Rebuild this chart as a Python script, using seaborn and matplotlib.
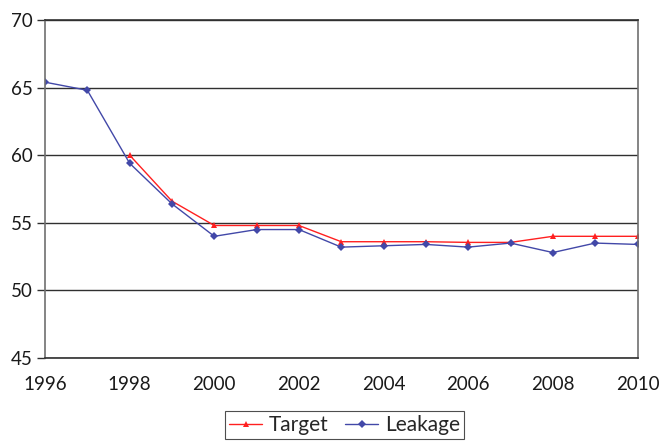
import matplotlib
matplotlib.use("Agg")
import matplotlib.pyplot as plt
import seaborn as sns
import pandas as pd

years = list(range(1996, 2011))
target_years = list(range(1998, 2011))
target = [60.0, 56.6, 54.8, 54.8, 54.8, 53.6, 53.6, 53.6, 53.55, 53.55, 54.0, 54.0, 54.0]
leakage = [65.4, 64.8, 59.4, 56.4, 54.0, 54.5, 54.5, 53.2, 53.3, 53.4, 53.2, 53.5, 52.8, 53.5, 53.4]
y_ticks = [45, 50, 55, 60, 65, 70]
x_ticks = list(range(1996, 2011, 2))

df = pd.concat([
    pd.DataFrame({"year": target_years, "value": target, "series": "Target"}),
    pd.DataFrame({"year": years, "value": leakage, "series": "Leakage"}),
], ignore_index=True)

sns.set_theme(style="white")
plt.rcParams["font.family"] = ["Lato", "DejaVu Sans"]

fig = plt.figure(figsize=(6.7, 4.44), dpi=100)
ax = fig.add_axes([0.0672, 0.1937, 0.8843, 0.7613])

sns.lineplot(
    data=df, x="year", y="value", hue="series", style="series",
    palette={"Target": "#FF2020", "Leakage": "#4248A8"},
    markers={"Target": "^", "Leakage": "D"}, dashes=False,
    markersize=4, linewidth=1.0, markeredgewidth=0, ax=ax,
)

ax.set_xlim(1996, 2010)
ax.set_ylim(45, 70)
ax.set_xticks(x_ticks)
ax.set_yticks(y_ticks)
ax.set_xlabel("")
ax.set_ylabel("")
ax.grid(axis="y", color="#303030", linewidth=1.0)
ax.set_axisbelow(True)
for side in ["left", "right", "top", "bottom"]:
    ax.spines[side].set_visible(True)
    ax.spines[side].set_color("#707070")
    ax.spines[side].set_linewidth(1.2)
ax.spines["top"].set_color("#303030")
ax.spines["bottom"].set_color("#303030")
ax.tick_params(axis="y", left=True, length=6, width=1, color="#303030",
               labelsize=13.5, pad=3, labelcolor="#1a1a1a")
ax.tick_params(axis="x", bottom=False, labelsize=13.5, pad=7, labelcolor="#1a1a1a")

handles, labels = ax.get_legend_handles_labels()
ax.legend_.remove()
leg = fig.legend(handles, labels, loc="center", bbox_to_anchor=(0.514, 0.043),
                 ncol=2, frameon=True, fancybox=False, fontsize=15,
                 handlelength=1.6, columnspacing=0.8, handletextpad=0.3,
                 borderpad=0.2)
leg.get_frame().set_edgecolor("#222222")
leg.get_frame().set_linewidth(0.8)

fig.savefig("out.png", dpi=100)
